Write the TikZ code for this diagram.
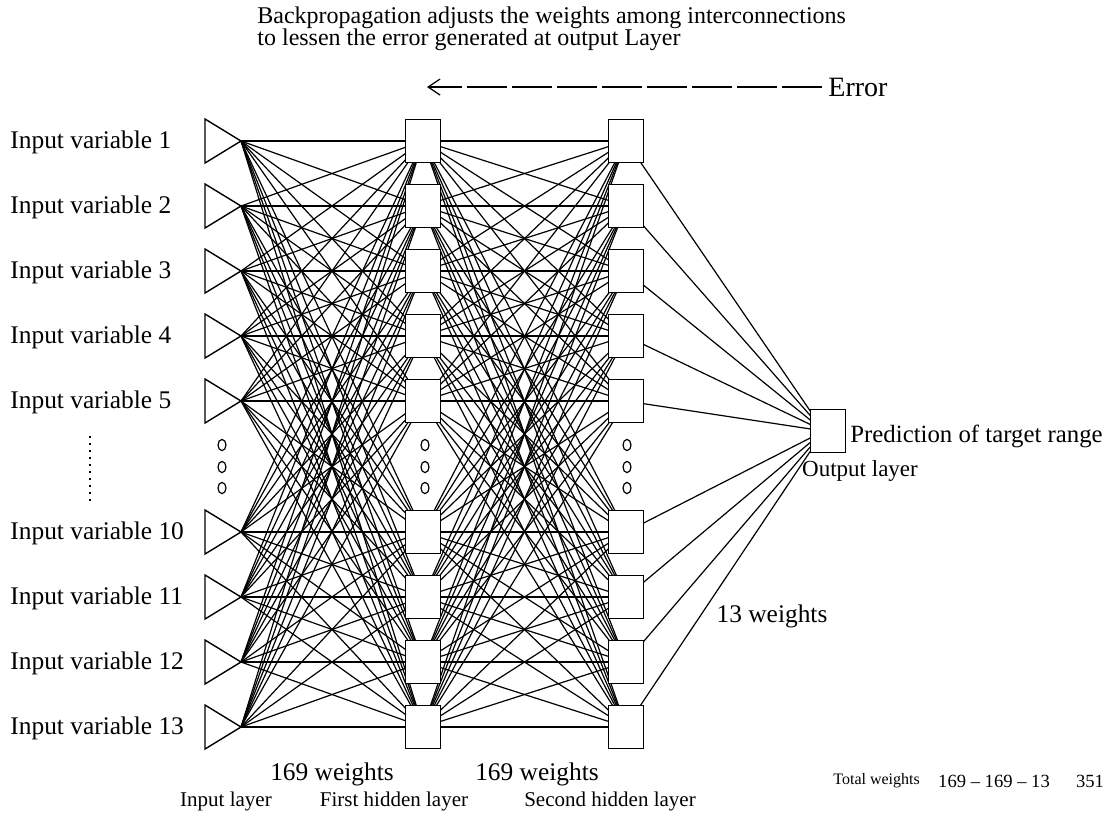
\documentclass[tikz,border=0pt]{standalone}
\usepackage{fontspec}
\setmainfont{Liberation Serif}
\usetikzlibrary{arrows.meta,backgrounds}

\begin{document}
\begin{tikzpicture}
    [x=0.5pt,y=-0.5pt,
     unit/.style={rectangle,draw,fill=white,line width=0.7pt,minimum width=17.5pt,minimum height=21.5pt,inner sep=0pt},
     wire/.style={line width=0.6pt},
     lbl/.style={font=\fontsize{12.7}{14}\selectfont,inner sep=0pt},
     layertext/.style={font=\fontsize{10.5}{12}\selectfont,inner sep=0pt}]
    \useasboundingbox (0,0) rectangle (1111,821);

    % layers, one row per input variable
    \foreach \y/\n [count=\k] in {141/1,206/2,271/3,336/4,401/5,532/10,597/11,662/12,727/13} {
      \draw[line width=0.7pt] (205,\y-22) -- (241,\y) -- (205,\y+22) -- cycle;
      \coordinate (in\k) at (241,\y);
      \node[lbl,anchor=west] (lab\k) at (10,\y+1) {Input variable \n};
      \node[unit] (ha\k) at (423,\y) {};
      \node[unit] (hb\k) at (626,\y) {};
      \coordinate (tip\k) at (812,{431+0.06*(\y-431)});
    }
    \node[unit] (out) at (828,431) {};

    \begin{pgfonlayer}{background}
      \foreach \i in {1,...,9} {
        \foreach \j in {1,...,9} {
          \draw[wire] (in\i) -- (ha\j.center);
          \draw[wire] (ha\i.center) -- (hb\j.center);
        }
        \draw[wire] (hb\i.center) -- (tip\i);
      }
    \end{pgfonlayer}

    % skipped rows
    \foreach \x in {222,425,627}
      \foreach \y in {445,467,488}
        \draw[line width=0.6pt] (\x,\y) ellipse [x radius=2pt,y radius=2.8pt];
    \draw[line width=1pt,dash pattern=on 1pt off 2.5pt] (90,436) -- (90,506);

    \node[font=\fontsize{12}{11}\selectfont,align=left,anchor=west,inner sep=0pt] (note) at (257,29)
      {Backpropagation adjusts the weights among interconnections\\to lessen the error generated at output Layer};
    \node[font=\fontsize{14}{16}\selectfont,anchor=west,inner sep=0pt] (err) at (828,87) {Error};
    \coordinate (back) at (427,87);
    \draw[line width=0.6pt,dash pattern=on 20pt off 2.5pt,-{Straight Barb[length=6pt,width=8pt]}]
      ([xshift=-3pt]err.west) -- (back);

    \node[font=\fontsize{12.4}{14}\selectfont,inner sep=0pt,anchor=west] (pred) at (850,436) {Prediction of target range};
    \node[font=\fontsize{11.5}{13}\selectfont,inner sep=0pt] (outlab) at (860,471) {Output layer};
    \node[lbl] (wa) at (332,774) {169 weights};
    \node[lbl] (wb) at (537,774) {169 weights};
    \node[lbl] (wc) at (772,616) {13 weights};

    \node[layertext] (capa) at (226,801) {Input layer};
    \node[layertext] (capb) at (394,801) {First hidden layer};
    \node[layertext] (capc) at (610,801) {Second hidden layer};

    \node[font=\fontsize{8}{10}\selectfont,anchor=west,inner sep=0pt] (tw) at (833,781) {Total weights};
    \node[font=\fontsize{9.3}{11}\selectfont,inner sep=0pt] (sum) at (994,781) {169 – 169 – 13};
    \node[font=\fontsize{9.3}{11}\selectfont,inner sep=0pt] (tot) at (1090,781) {351};
\end{tikzpicture}
\end{document}
